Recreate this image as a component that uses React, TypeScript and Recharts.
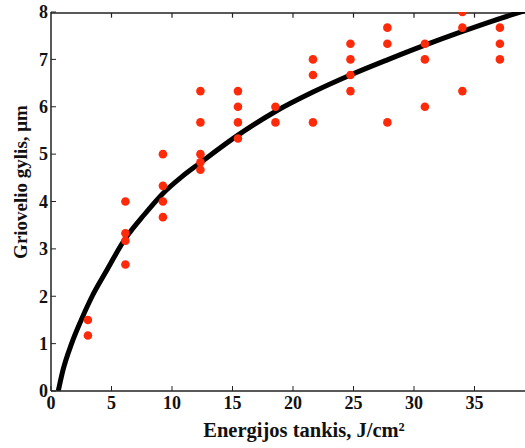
import {
  ComposedChart,
  Label,
  Line,
  ReferenceLine,
  Scatter,
  XAxis,
  YAxis,
} from "recharts";

// measured energy densities (J/cm2) and groove depths (um) at each of them
const energyLevels = [3.05, 6.15, 9.25, 12.35, 15.45, 18.55, 21.65, 24.75, 27.8, 30.9, 34.0, 37.1];
const depthGroups = [
  [1.5, 1.17],
  [4.0, 3.33, 3.17, 2.67],
  [5.0, 4.33, 4.0, 3.67],
  [6.33, 5.67, 5.0, 4.83, 4.67],
  [6.33, 6.0, 5.67, 5.33],
  [6.0, 5.67],
  [7.0, 6.67, 5.67],
  [7.33, 7.0, 6.67, 6.33],
  [7.67, 7.33, 5.67],
  [7.33, 7.0, 6.0],
  [8.0, 7.67, 6.33],
  [7.67, 7.33, 7.0],
];

// fitted curve
const fitX = [0.6, 1.0, 1.7, 2.5, 3.4, 4.5, 6.15, 7.7, 9.25, 10.8, 12.35, 15.45, 18.55, 21.65, 24.75, 27.8, 30.9, 34.0, 36.6, 39.2];
const fitY = [0, 0.45, 1.0, 1.5, 2.0, 2.5, 3.22, 3.72, 4.17, 4.52, 4.82, 5.4, 5.9, 6.31, 6.67, 6.99, 7.3, 7.59, 7.82, 8.03];

const xTicks = [0, 5, 10, 15, 20, 25, 30, 35];
const yTicks = [0, 1, 2, 3, 4, 5, 6, 7, 8];
const yMax = 8;
const frameY = 7.98; // a hair under the domain edge, otherwise the line gets clipped away

const points = energyLevels.flatMap((x, i) => depthGroups[i].map((y) => ({ x, y })));
const curve = fitX.map((x, i) => ({ x, y: fitY[i] }));

const FONT = "'Liberation Serif', 'Times New Roman', serif";
const INK = "#111";

const BottomTick = (props: any) => {
  const { x, y, payload } = props;
  return (
    <g>
      <line x1={x} y1={y} x2={x} y2={y - 5} stroke="#222" strokeWidth={1} />
      <text x={x} y={y + 18} textAnchor="middle" fontFamily={FONT} fontWeight="bold" fontSize={18} fill={INK}>
        {payload.value}
      </text>
    </g>
  );
};

const LeftTick = (props: any) => {
  const { x, y, payload } = props;
  return (
    <g>
      <line x1={x} y1={y} x2={x + 5} y2={y} stroke="#222" strokeWidth={1} />
      <text x={x - 3} y={y} dy="0.35em" textAnchor="end" fontFamily={FONT} fontWeight="bold" fontSize={18} fill={INK}>
        {payload.value}
      </text>
    </g>
  );
};

const Dot = (props: any) => {
  const { cx, cy } = props;
  return <circle cx={cx} cy={cy} r={4.3} fill="#ff2a0a" />;
};

export default function App() {
  return (
    <div style={{ position: "absolute", left: 0, top: 0, width: 525, height: 448, overflow: "hidden", background: "#fff" }}>
      <ComposedChart width={560} height={448} margin={{ top: 12, right: 25, left: 0, bottom: 0 }}>
        <XAxis
          type="number"
          dataKey="x"
          domain={[0, 40]}
          ticks={xTicks}
          allowDataOverflow
          height={57}
          tickSize={0}
          tickMargin={0}
          tickLine={false}
          tick={<BottomTick />}
          axisLine={{ stroke: "#222", strokeWidth: 1.5 }}
        >
          <Label
            content={() => (
              <text x={304} y={437} textAnchor="middle" fontFamily={FONT} fontWeight="bold" fontSize={20.5} fill={INK}>
                Energijos tankis, J/cm²
              </text>
            )}
          />
        </XAxis>
        <YAxis
          type="number"
          dataKey="y"
          domain={[0, yMax]}
          ticks={yTicks}
          allowDataOverflow
          width={51}
          tickSize={0}
          tickMargin={0}
          tickLine={false}
          tick={<LeftTick />}
          axisLine={{ stroke: "#222", strokeWidth: 1.5 }}
        >
          <Label
            content={() => (
              <text
                x={20}
                y={182}
                transform="rotate(-90 20 182)"
                dy="0.35em"
                textAnchor="middle"
                fontFamily={FONT}
                fontWeight="bold"
                fontSize={19}
                fill={INK}
              >
                Griovelio gylis, μm
              </text>
            )}
          />
        </YAxis>
        {/* top frame with inward ticks */}
        <ReferenceLine y={frameY} stroke="#222" strokeWidth={1.5} />
        {xTicks.slice(1).map((t) => (
          <ReferenceLine
            key={t}
            segment={[{ x: t, y: frameY }, { x: t, y: frameY - 0.1 }]}
            stroke="#222"
            strokeWidth={1.2}
          />
        ))}
        <Line
          data={curve}
          dataKey="y"
          type="monotone"
          stroke="#000"
          strokeWidth={5}
          dot={false}
          activeDot={false}
          isAnimationActive={false}
        />
        <Scatter data={points} dataKey="y" shape={<Dot />} isAnimationActive={false} />
      </ComposedChart>
    </div>
  );
}
